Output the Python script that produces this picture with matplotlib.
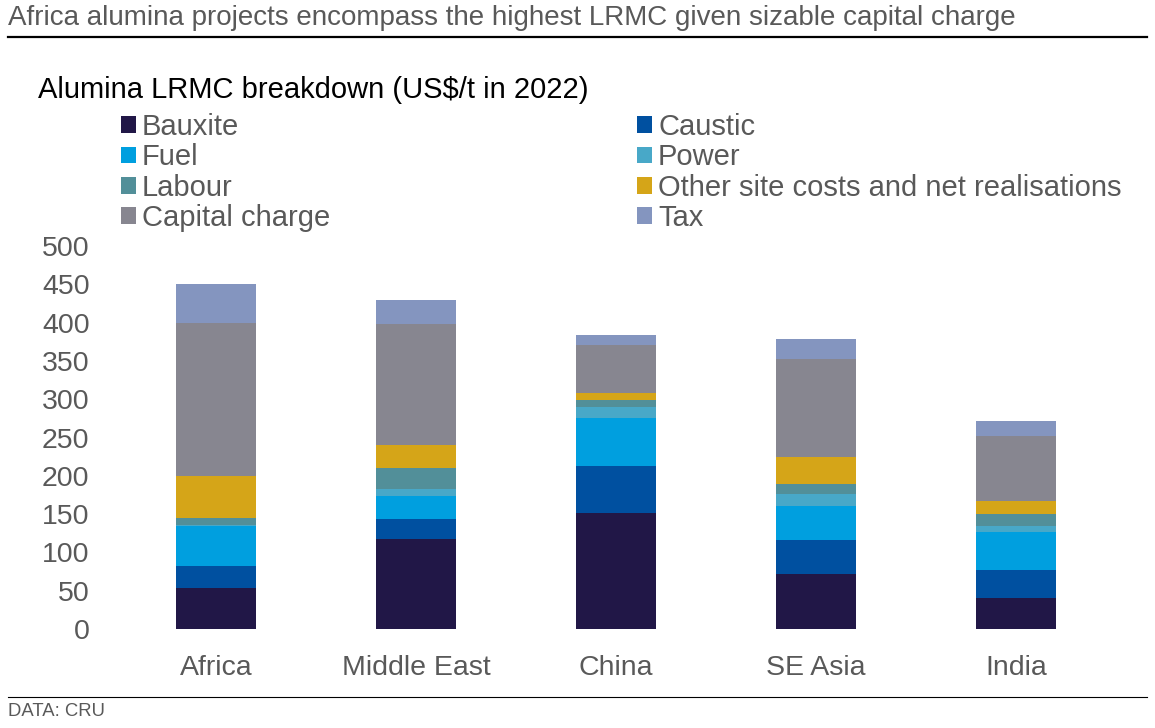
import matplotlib.pyplot as plt
from matplotlib.patches import Patch
import numpy as np

plt.rcParams['font.family'] = ['Liberation Sans', 'DejaVu Sans']

# regions and cost components (US$/t in 2022)
regions = ['Africa', 'Middle East', 'China', 'SE Asia', 'India']
bauxite = [54, 117, 151, 72, 41]
caustic = [28, 27, 62, 44, 36]
fuel = [52, 30, 63, 45, 50]
power = [1.5, 9, 14, 15, 7.5]
labour = [9, 27, 9, 13, 15.5]
other = [55, 30, 9, 35, 17]
capital = [200, 158, 63, 129, 85]
tax = [51, 31, 13, 26, 20]

names = ['Bauxite', 'Caustic', 'Fuel', 'Power', 'Labour',
         'Other site costs and net realisations', 'Capital charge', 'Tax']
series = [bauxite, caustic, fuel, power, labour, other, capital, tax]
colors = ['#211747', '#0050A0', '#009FDF', '#48A8C8', '#528F99',
          '#D5A518', '#878690', '#8495BF']

grey = '#595959'

fig = plt.figure(figsize=(11.55, 7.28), dpi=100)
W, H = 1155, 728

# axes placed so 0 sits at y=629px and 500 at y=246px
ax = fig.add_axes([116 / W, (H - 629) / H, 1000 / W, 383 / H])

x = np.arange(len(regions))
bottom = np.zeros(len(regions))
for vals, col, name in zip(series, colors, names):
    ax.bar(x, vals, width=0.4, bottom=bottom, color=col, label=name)
    bottom += np.array(vals)

ax.set_xlim(-0.5, len(regions) - 0.5)
ax.set_ylim(0, 500)
ax.set_yticks(range(0, 501, 50))
ax.set_xticks(x)
ax.set_xticklabels(regions)
for s in ax.spines.values():
    s.set_visible(False)
ax.tick_params(axis='both', length=0, labelsize=20.5, colors=grey)
ax.tick_params(axis='x', pad=19)
ax.tick_params(axis='y', pad=19)

# title, rules and source
fig.text(8 / W, 1 - 18 / H, 'Africa alumina projects encompass the highest LRMC given sizable capital charge',
         fontsize=20, color=grey, va='center', ha='left')
fig.add_artist(plt.Line2D([8 / W, 1147 / W], [1 - 37 / H, 1 - 37 / H], color='black', lw=1.6))
fig.add_artist(plt.Line2D([8 / W, 1147 / W], [1 - 697 / H, 1 - 697 / H], color='black', lw=0.8))
fig.text(8 / W, 1 - 712 / H, 'DATA: CRU', fontsize=13.3, color=grey, va='center', ha='left')

fig.text(38 / W, 1 - 90 / H, 'Alumina LRMC breakdown (US$/t in 2022)',
         fontsize=21, color='black', va='center', ha='left')

# legend in two columns, row order as in the original
handles = [Patch(facecolor=c, label=n) for c, n in zip(colors, names)]
legkw = dict(frameon=False, fontsize=21, labelcolor=grey, handlelength=0.5,
             handleheight=0.5, handletextpad=0.22, labelspacing=0.08,
             borderpad=0, borderaxespad=0, loc='upper left')
fig.legend(handles=handles[0::2], bbox_to_anchor=(121 / W, 1 - 113 / H), **legkw)
fig.legend(handles=handles[1::2], bbox_to_anchor=(637 / W, 1 - 113 / H), **legkw)

fig.savefig('out.png', dpi=100)
